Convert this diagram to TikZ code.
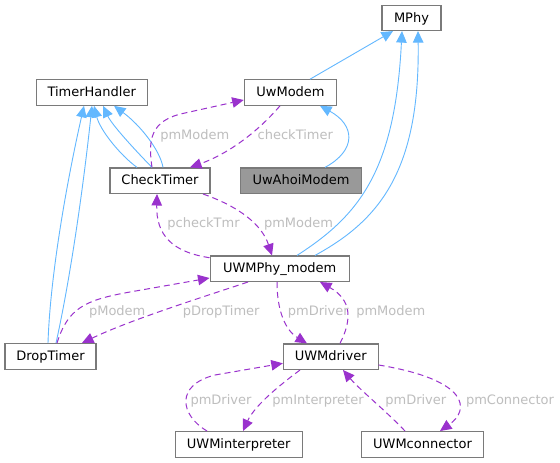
\documentclass[tikz,border=0pt]{standalone}
\usepackage{fontspec}
\setmainfont{DejaVu Sans}
\usetikzlibrary{arrows.meta}
\definecolor{inh}{HTML}{63B8FF}
\definecolor{use}{HTML}{9A32CD}
\definecolor{lbl}{HTML}{BEBEBE}
\definecolor{bdr}{HTML}{7A7A7A}
\definecolor{hl}{HTML}{999999}
\begin{document}
\begin{tikzpicture}[x=1pt,y=-1pt,
  cls/.style={draw=bdr, line width=1.1pt, fill=white, minimum height=25.5pt, inner sep=0pt,
    font=\fontsize{13}{15}\selectfont, text height=9.5pt, text depth=1pt},
  inhedge/.style={draw=inh, line width=0.9pt, -{Triangle[length=11.5pt,width=10.5pt]}},
  useedge/.style={draw=use, line width=1pt, dash pattern=on 6pt off 4pt, -{Triangle[length=11.5pt,width=10.5pt]}},
  lab/.style={text=lbl, inner sep=0pt, font=\fontsize{13}{15}\selectfont, text height=9.5pt, text depth=1pt}
]
\useasboundingbox[fill=white] (0,0) rectangle (560,463);

\node[cls, minimum width=59pt] (MPhy) at (411.5,17.8) {MPhy};
\node[cls, minimum width=92.5pt] (UwModem) at (290.5,92.5) {UwModem};
\node[cls, minimum width=110.7pt] (TH) at (91.7,92.5) {TimerHandler};
\node[cls, minimum width=100pt] (CT) at (160,180.7) {CheckTimer};
\node[cls, minimum width=121.4pt, fill=hl] (Ahoi) at (301,180.7) {UwAhoiModem};
\node[cls, minimum width=139.3pt] (Phy) at (279.7,268.7) {UWMPhy\_modem};
\node[cls, minimum width=91pt] (DT) at (50.5,356.3) {DropTimer};
\node[cls, minimum width=94.7pt] (Drv) at (330.7,356.7) {UWMdriver};
\node[cls, minimum width=127.3pt] (Int) at (238.7,444.3) {UWMinterpreter};
\node[cls, minimum width=121.7pt] (Con) at (422.5,444.3) {UWMconnector};

% inheritance
\draw[inhedge] ([xshift=19.5pt]UwModem.north) -- ([xshift=-18.5pt]MPhy.south);
\draw[inhedge] ([xshift=17.3pt]Phy.north) .. controls (360,215) and (395,170) .. ([xshift=-9.5pt]MPhy.south);
\draw[inhedge] ([xshift=35.3pt]Phy.north) .. controls (380,220) and (420,170) .. ([xshift=6.5pt]MPhy.south);
\draw[inhedge] ([xshift=24pt]Ahoi.north) .. controls (357,150) and (355,125) .. ([xshift=29.5pt]UwModem.south);
\draw[inhedge] ([xshift=-2.5pt]DT.north) .. controls (50,280) and (65,190) .. ([xshift=-7.7pt]TH.south);
\draw[inhedge] ([xshift=5.5pt]DT.north) .. controls (70,280) and (83,190) .. ([xshift=0.3pt]TH.south);
\draw[inhedge] ([xshift=-23pt]CT.north) .. controls (120,155) and (100,130) .. ([xshift=2.3pt]TH.south);
\draw[inhedge] ([xshift=-8pt]CT.north) .. controls (135,150) and (112,125) .. ([xshift=11.3pt]TH.south);
\draw[inhedge] ([xshift=3pt]CT.north) .. controls (160,150) and (140,125) .. ([xshift=22.3pt]TH.south);

% usage
\draw[useedge] ([xshift=-10.5pt]UwModem.south) .. controls (255,135) and (225,155) .. ([xshift=30pt]CT.north);
\draw[useedge] ([xshift=-8pt]CT.north) .. controls (148,140) and (150,120) .. (185,113) -- ([yshift=-7.5pt]UwModem.west);
\draw[useedge] ([xshift=43pt]CT.south) .. controls (240,207) and (262,225) .. ([xshift=-7.7pt]Phy.north);
\draw[useedge] ([yshift=11pt]Phy.west) .. controls (172,252) and (156,235) .. ([xshift=-3pt]CT.south);
\draw[useedge] ([xshift=6.5pt]DT.north) .. controls (68,308) and (85,300) .. (130,292) -- ([yshift=-9.3pt]Phy.west);
\draw[useedge] ([xshift=-31.7pt]Phy.south) .. controls (200,298) and (130,320) .. ([xshift=31.5pt]DT.north);
\draw[useedge] ([xshift=-2.7pt]Phy.south) .. controls (277,310) and (285,330) .. ([xshift=-23.7pt]Drv.north);
\draw[useedge] ([xshift=9.3pt]Drv.north) .. controls (352,320) and (352,300) .. ([xshift=40.3pt]Phy.south);
\draw[useedge] ([xshift=-31.7pt]Int.north) .. controls (180,415) and (175,385) .. (215,375) -- ([yshift=-6.6pt]Drv.west);
\draw[useedge] ([xshift=-30.7pt]Drv.south) .. controls (280,385) and (255,405) .. ([xshift=4.3pt]Int.north);
\draw[useedge] ([xshift=-17.5pt]Con.north) .. controls (385,410) and (360,390) .. ([xshift=12.3pt]Drv.south);
\draw[useedge] ([yshift=-8.3pt]Drv.east) .. controls (470,380) and (470,410) .. ([xshift=17.5pt]Con.north);

% labels
\node[lab] (l1) at (295.3,135.5) {checkTimer};
\node[lab] (l2) at (194.8,135.5) {pmModem};
\node[lab] (l3) at (298.5,223.3) {pmModem};
\node[lab] (l4) at (203.5,223.3) {pcheckTmr};
\node[lab] (l5) at (117.2,311.7) {pModem};
\node[lab] (l6) at (221.2,311.7) {pDropTimer};
\node[lab] (l7) at (318.3,311.7) {pmDriver};
\node[lab] (l8) at (390.8,311.7) {pmModem};
\node[lab] (l9) at (221,400) {pmDriver};
\node[lab] (l10) at (318,400) {pmInterpreter};
\node[lab] (l11) at (415.8,400) {pmDriver};
\node[lab] (l12) at (510,400) {pmConnector};
\end{tikzpicture}
\end{document}
